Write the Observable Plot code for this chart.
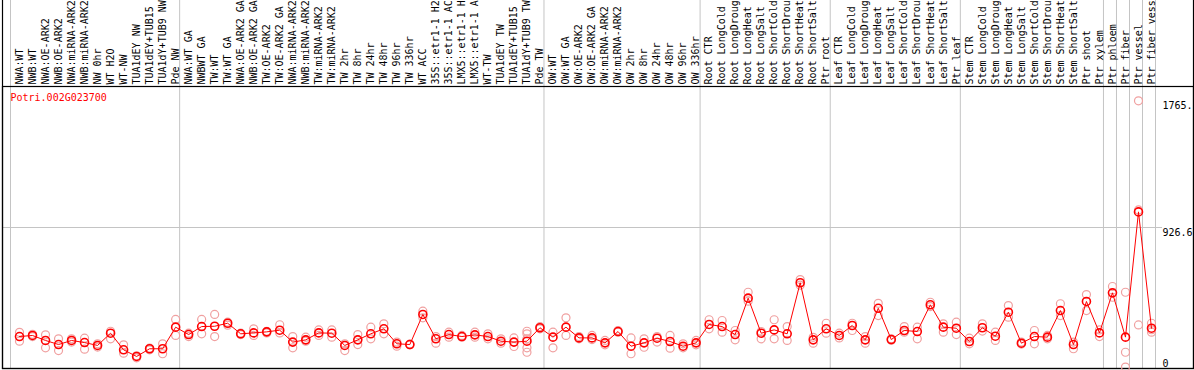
<!DOCTYPE html>
<html><head><meta charset="utf-8">
<script src="https://cdn.jsdelivr.net/npm/d3@7"></script>
<script src="https://cdn.jsdelivr.net/npm/@observablehq/plot@0.6"></script>
<style>
html,body{margin:0;padding:0;background:#fff;}
#chart svg{display:block;}
</style></head><body><div id="chart"></div>
<script>
const geneId = "Potri.002G023700";

const labels = [
  "NWA:WT","NWB:WT","NWA:OE-ARK2","NWB:OE-ARK2","NWA:miRNA-ARK2","NWB:miRNA-ARK2","NW 0hr","WT H2O","WT-NW","TUA1dEY NW","TUA1dEY+TUB15 NW","TUA1dY+TUB9 NW","Pde NW",
  "NWA:WT GA","NWBWT GA","TW:WT","TW:WT GA","NWA:OE-ARK2 GA","NWB:OE-ARK2 GA","TW:OE-ARK2","TW:OE-ARK2 GA","NWA:miRNA-ARK2","NWB:miRNA-ARK2","TW:miRNA-ARK2","TW:miRNA-ARK2","TW 2hr","TW 8hr","TW 24hr","TW 48hr","TW 96hr","TW 336hr","WT ACC","35S::etr1-1 H2O","35S::etr1-1 ACC","LMX5::etr1-1 H2O","LMX5::etr1-1 ACC","WT-TW","TUA1dEY TW","TUA1dEY+TUB15 TW","TUA1dY+TUB9 TW","Pde TW",
  "OW:WT","OW:WT GA","OW:OE-ARK2","OW:OE-ARK2 GA","OW:miRNA-ARK2","OW:miRNA-ARK2","OW 2hr","OW 8hr","OW 24hr","OW 48hr","OW 96hr","OW 336hr",
  "Root CTR","Root LongCold","Root LongDrought","Root LongHeat","Root LongSalt","Root ShortCold","Root ShortDrought","Root ShortHeat","Root ShortSalt","Ptr root",
  "Leaf CTR","Leaf LongCold","Leaf LongDrought","Leaf LongHeat","Leaf LongSalt","Leaf ShortCold","Leaf ShortDrought","Leaf ShortHeat","Leaf ShortSalt","Ptr leaf",
  "Stem CTR","Stem LongCold","Stem LongDrought","Stem LongHeat","Stem LongSalt","Stem ShortCold","Stem ShortDrought","Stem ShortHeat","Stem ShortSalt","Ptr shoot","Ptr xylem",
  "Ptr phloem","Ptr fiber","Ptr vessel","Ptr fiber vessel"
];

const means = [
  205,212,179,152,179,165,146,227,117,73,124,124,267,
  218,271,273,293,223,229,236,247,168,183,229,227,146,183,223,256,157,152,351,190,218,205,216,205,174,168,174,263,
  201,267,196,196,163,238,141,163,194,172,141,163,
  285,271,218,459,227,249,223,561,183,256,
  212,278,183,392,185,245,238,415,267,260,
  172,263,207,366,161,205,201,377,152,437,229,
  494,201,1030,260
];

const replicates = [
  [233,174],[220,205],[216,130],[190,112],[190,168],[194,121],[157,135],[240,190],[150,95],[77,64],[128,117],[157,91],[318,212],
  [227,205],[318,223],[351,205],[300,280],[227,218],[256,212],[240,229],[283,229],[205,130],[201,174],[249,212],[249,201],[157,112],[218,152],[267,190],[289,223],[168,141],[155,150],[373,329],[205,161],[234,201],[212,201],[234,201],[223,190],[190,161],[196,139],[240,223,190,130,101],[270,256],
  [234,130],[329,212],[205,190],[212,185],[179,150],[245,234],[196,91],[190,134],[205,168],[212,128],[157,130],[179,150],
  [316,256],[311,234],[245,183],[498,439],[238,190],[316,190],[271,179],[582,545],[200,161],[293,227],
  [227,196],[293,245],[205,161],[425,344],[190,180],[271,234],[267,190],[432,403],[289,234],[300,218],
  [194,157],[289,241],[234,179],[410,333],[168,155],[245,157],[212,190],[422,344],[168,124],[483,377],[249,205],
  [536,465],[498,101,3],[1765,282,1043],[293,234,250]
];

const groupStarts = [0,13,41,53,63,73,84,85,86,87,88];
const yTicks = [0, 926.6, 1765.0];
const yTickLabels = ["0", "926.6", "1765."];
const yMax = 1765.0 * 1.05;

const rows = means.map((m, i) => ({i, label: labels[i], mean: m}));
const reps = replicates.flatMap((r, i) => r.map(v => ({i, v})));
const tickRows = yTicks.map((v, k) => ({v, t: yTickLabels[k]}));

const plot = Plot.plot({
  width: 1194, height: 370,
  marginTop: 86, marginLeft: 2, marginRight: 1, marginBottom: 2,
  style: {fontFamily: "'DejaVu Sans Mono', monospace", fontSize: "10px", background: "white", color: "black"},
  x: {type: "linear", domain: [0, labels.length - 1], range: [19, 1151], axis: null},
  y: {domain: [0, yMax], range: [367, 87], axis: null},
  marks: [
    Plot.ruleY([yTicks[1]], {stroke: "#c4c4c4", strokeWidth: 1, insetRight: 31}),
    Plot.ruleX(groupStarts, {x: d => d, dx: -9, stroke: "#c4c4c4", strokeWidth: 1, insetTop: -90}),
    Plot.frame({stroke: "black", strokeWidth: 1.2, insetTop: -90}),
    Plot.frame({stroke: "black", strokeWidth: 1.2}),
    Plot.text(rows, {x: "i", text: "label", frameAnchor: "top", dy: -2, rotate: -90, textAnchor: "start", lineAnchor: "middle", fill: "black"}),
    Plot.dot(reps, {x: "i", y: "v", r: 4, stroke: "#f0a0a0", strokeWidth: 1.2, fill: "none"}),
    Plot.line(rows, {x: "i", y: "mean", stroke: "red", strokeWidth: 1}),
    Plot.dot(rows, {x: "i", y: "mean", r: 4, stroke: "red", strokeWidth: 1.6, fill: "none"}),
    Plot.text([geneId], {frameAnchor: "top-left", text: d => d, dx: 8, dy: 7, fill: "red", textAnchor: "start", lineAnchor: "top"}),
    Plot.text(tickRows.filter(d => d.v > 0), {y: "v", text: "t", frameAnchor: "right", dx: -31, dy: 1, textAnchor: "start", lineAnchor: "top", fill: "black"}),
    Plot.text(tickRows.filter(d => d.v === 0), {y: "v", text: "t", frameAnchor: "right", dx: -31, dy: -1, textAnchor: "start", lineAnchor: "bottom", fill: "black"})
  ]
});
document.getElementById("chart").appendChild(plot);
</script>
</body></html>
